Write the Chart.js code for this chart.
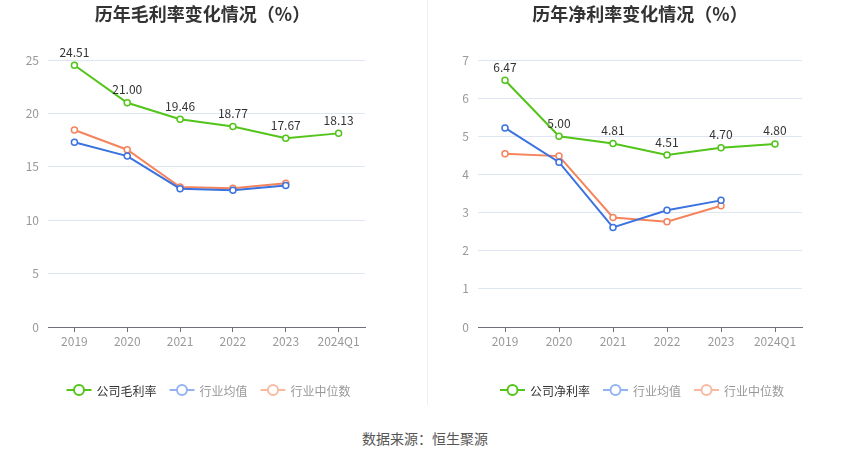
<!DOCTYPE html>
<html>
<head>
<meta charset="utf-8">
<script src="https://cdn.jsdelivr.net/npm/chart.js@4.4.0/dist/chart.umd.min.js"></script>
<style>
body{margin:0;background:#fff;width:850px;height:459px;position:relative;overflow:hidden;font-family:'Noto Sans CJK SC',sans-serif}
.box{position:absolute;top:0;height:410px}
.divider{position:absolute;left:427px;top:0;width:1px;height:405px;background:#eeeeee}
.source{position:absolute;left:0;width:850px;top:428px;text-align:center;font-size:14px;color:#555}
</style>
</head>
<body>
<div class="box" style="left:0;width:427px"><canvas id="gross"></canvas></div>
<div class="divider"></div>
<div class="box" style="left:428px;width:422px"><canvas id="net"></canvas></div>
<div class="source">数据来源：恒生聚源</div>
<script>
const years = ['2019', '2020', '2021', '2022', '2023', '2024Q1'];

const grossCompany = [24.51, 21.00, 19.46, 18.77, 17.67, 18.13];
const grossIndAvg = [17.3, 16.0, 12.95, 12.8, 13.25, null];
const grossIndMed = [18.45, 16.6, 13.1, 13.0, 13.45, null];

const netCompany = [6.47, 5.00, 4.81, 4.51, 4.70, 4.80];
const netIndAvg = [5.22, 4.32, 2.61, 3.06, 3.32, null];
const netIndMed = [4.54, 4.48, 2.87, 2.76, 3.18, null];

const FONT = "'Noto Sans CJK SC', sans-serif";
const GREEN = '#52c41a';
const BLUE = '#3a72e0';
const ORANGE = '#f5845c';

// value labels above the company series
const valueLabels = {
    id: 'valueLabels',
    afterDatasetsDraw(chart) {
        const ctx = chart.ctx;
        const ds = chart.data.datasets[0];
        const meta = chart.getDatasetMeta(0);
        ctx.save();
        ctx.font = '12px ' + FONT;
        ctx.fillStyle = '#333';
        ctx.textAlign = 'center';
        ctx.textBaseline = 'bottom';
        meta.data.forEach((pt, i) => {
            if (ds.data[i] == null) return;
            ctx.fillText(ds.data[i].toFixed(2), pt.x, pt.y - 7);
        });
        ctx.restore();
    }
};

// title + legend drawn by hand so they sit where the original has them
const frame = {
    id: 'frame',
    afterDraw(chart, args, opts) {
        const ctx = chart.ctx;
        const cx = (chart.chartArea.left + chart.chartArea.right) / 2;
        ctx.save();
        ctx.font = 'bold 18px ' + FONT;
        ctx.fillStyle = '#333';
        ctx.textAlign = 'center';
        ctx.textBaseline = 'middle';
        ctx.fillText(opts.title, cx + opts.titleShift, 14);

        ctx.font = '12px ' + FONT;
        const items = opts.items;
        let total = 0;
        items.forEach((it, i) => {
            it.w = ctx.measureText(it.text).width;
            total += 25 + 5 + it.w + (i ? 13 : 0);
        });
        let x = cx + opts.legendShift - total / 2;
        const y = opts.legendY;
        items.forEach(it => {
            ctx.strokeStyle = it.color;
            ctx.lineWidth = 2;
            ctx.beginPath();
            ctx.moveTo(x, y);
            ctx.lineTo(x + 25, y);
            ctx.stroke();
            ctx.beginPath();
            ctx.arc(x + 12.5, y, 5, 0, Math.PI * 2);
            ctx.fillStyle = '#fff';
            ctx.fill();
            ctx.stroke();
            ctx.fillStyle = it.textColor;
            ctx.textAlign = 'left';
            ctx.fillText(it.text, x + 30, y + 1);
            x += 30 + it.w + 13;
        });
        ctx.restore();
    }
};

function series(label, data, color) {
    return {
        label: label,
        data: data,
        borderColor: color,
        backgroundColor: '#fff',
        borderWidth: 2,
        pointRadius: 3,
        pointBorderWidth: 1.5,
        pointBackgroundColor: '#fff',
        pointBorderColor: color,
        tension: 0
    };
}

function makeChart(id, title, name, company, avg, med, yMax, axisW, padRight, titleShift, legendShift) {
    const el = document.getElementById(id);
    return new Chart(el.getContext('2d'), {
        type: 'line',
        data: {
            labels: years,
            datasets: [
                series(name, company, GREEN),
                series('行业均值', avg, BLUE),
                series('行业中位数', med, ORANGE)
            ]
        },
        options: {
            responsive: true,
            maintainAspectRatio: false,
            animation: false,
            layout: {padding: {left: 0, right: padRight, top: 60, bottom: 59}},
            plugins: {
                legend: {display: false},
                tooltip: {enabled: false},
                frame: {
                    title: title,
                    titleShift: titleShift,
                    legendShift: legendShift,
                    legendY: 390,
                    items: [
                        {text: name, color: GREEN, textColor: '#333'},
                        {text: '行业均值', color: '#93b3f2', textColor: '#999'},
                        {text: '行业中位数', color: '#f9baa2', textColor: '#999'}
                    ]
                }
            },
            scales: {
                x: {
                    offset: true,
                    grid: {display: true, drawOnChartArea: false, drawTicks: true, tickLength: 5, color: '#6e7079', offset: false},
                    border: {display: true, color: '#6e7079'},
                    ticks: {color: '#999', font: {size: 12, family: FONT}, padding: 2, maxRotation: 0, autoSkip: false},
                    afterFit(scale) { scale.height = 24; }
                },
                y: {
                    min: 0,
                    max: yMax,
                    ticks: {stepSize: yMax === 25 ? 5 : 1, color: '#999', font: {size: 12, family: FONT}, padding: 9},
                    grid: {color: '#e0e6f1', drawTicks: false},
                    border: {display: false},
                    afterFit(scale) { scale.width = axisW; }
                }
            }
        },
        plugins: [valueLabels, frame]
    });
}

makeChart('gross', '历年毛利率变化情况（%）', '公司毛利率', grossCompany, grossIndAvg, grossIndMed, 25, 48, 62, -4, 2);
makeChart('net', '历年净利率变化情况（%）', '公司净利率', netCompany, netIndAvg, netIndMed, 7, 50, 48, 0, 2);
</script>
</body>
</html>
